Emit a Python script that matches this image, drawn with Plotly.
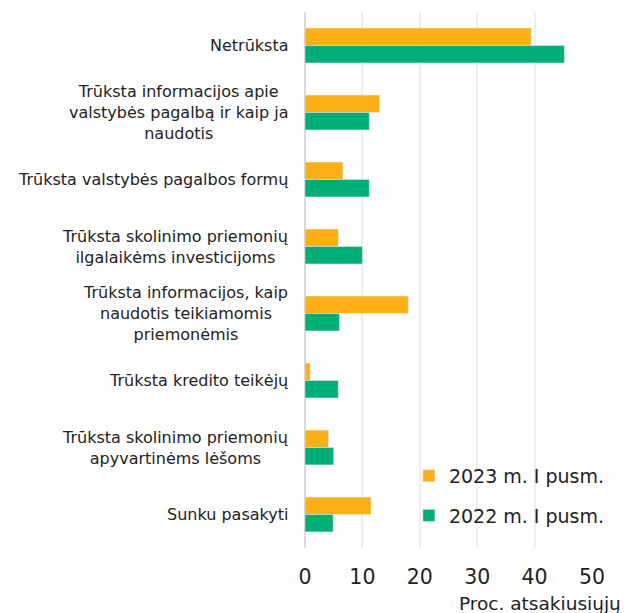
import plotly.graph_objects as go

categories = [
    "Netrūksta",
    "Trūksta informacijos apie<br>valstybės pagalbą ir kaip ja<br>naudotis",
    "Trūksta valstybės pagalbos formų",
    "Trūksta skolinimo priemonių<br>ilgalaikėms investicijoms",
    "Trūksta informacijos, kaip<br>naudotis teikiamomis<br>priemonėmis",
    "Trūksta kredito teikėjų",
    "Trūksta skolinimo priemonių<br>apyvartinėms lėšoms",
    "Sunku pasakyti",
]
values_2023 = [39.4, 13.0, 6.6, 5.8, 18.0, 0.9, 4.1, 11.5]
values_2022 = [45.2, 11.2, 11.2, 10.0, 6.0, 5.8, 5.0, 4.9]
series_names = ["2023 m. I pusm.", "2022 m. I pusm."]
x_ticks = [0, 10, 20, 30, 40, 50]
x_title = "Proc. atsakiusiųjų"

FONT = "DejaVu Sans, Verdana, sans-serif"
ORANGE = "#FCAF17"
GREEN = "#00AF78"

fig = go.Figure()
fig.add_trace(go.Bar(y=categories, x=values_2023, orientation="h", name=series_names[0],
                     marker=dict(color=ORANGE), legendgroup="a"))
fig.add_trace(go.Bar(y=categories, x=values_2022, orientation="h", name=series_names[1],
                     marker=dict(color=GREEN), legendgroup="b"))

annotations = []
for c in categories:
    annotations.append(dict(
        x=0, xref="paper", y=c, yref="y", text=c, showarrow=False,
        xanchor="right", yanchor="middle", align="center", xshift=-15,
        font=dict(family=FONT, size=16, color="#222222"),
    ))
annotations.append(dict(
    x=0.5296, xref="paper", y=-0.080, yref="paper", text=x_title, showarrow=False,
    xanchor="left", yanchor="top", font=dict(family=FONT, size=18.5, color="#222222"),
))

# the page body has an 8px default margin, so the figure is sized to end at the window edge
fig.update_layout(
    width=625, height=605,
    margin=dict(l=297, r=41, t=4, b=65),
    paper_bgcolor="white", plot_bgcolor="white",
    barmode="group", bargap=0.48, bargroupgap=0,
    font=dict(family=FONT, color="#222222"),
    legend=dict(x=0.362, y=0.17, xanchor="left", yanchor="top",
                traceorder="grouped", tracegroupgap=12,
                font=dict(family=FONT, size=19, color="#222222"),
                bgcolor="rgba(0,0,0,0)"),
    annotations=annotations,
    xaxis=dict(range=[0, 50], tickvals=x_ticks, showgrid=True, gridcolor="#EFEFEF", gridwidth=2,
               zeroline=True, zerolinecolor="#D9D9D9", zerolinewidth=2, showline=False,
               tickfont=dict(family=FONT, size=20.5, color="#222222"), ticklabelstandoff=14,
               fixedrange=True),
    yaxis=dict(autorange="reversed", showticklabels=False, showgrid=False, zeroline=False,
               showline=False, fixedrange=True),
)

fig.write_html("out.html")
